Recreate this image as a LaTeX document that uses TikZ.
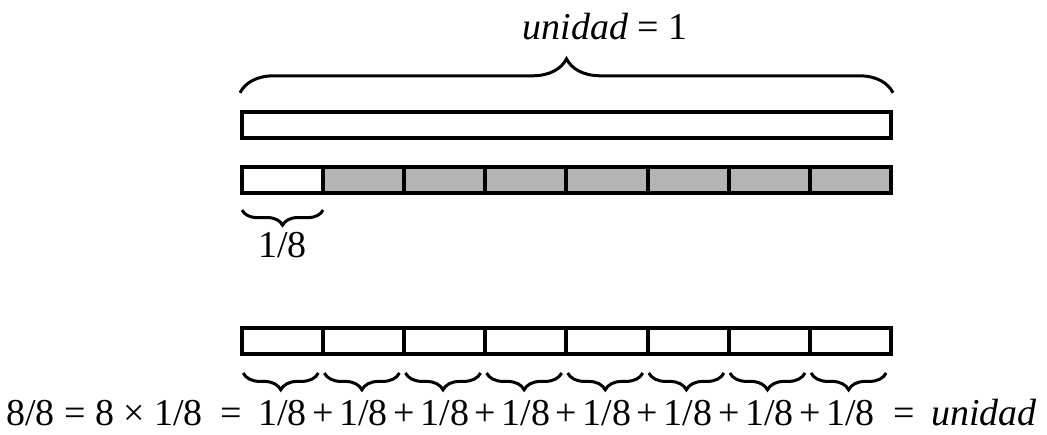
\documentclass[tikz,border=0pt]{standalone}
\usepackage{fontspec}
\setmainfont{Liberation Serif}
\usetikzlibrary{positioning,calc,decorations.pathreplacing}
\definecolor{trama}{RGB}{180,180,180}

\begin{document}
\begin{tikzpicture}[
    celda/.style={rectangle, draw=black, line width=0.1cm, fill=#1,
                  minimum width=2.028cm, minimum height=0.65cm, inner sep=0pt},
    celda/.default=white,
    llave/.style={decorate, decoration={brace, amplitude=#1}, line width=0.075cm},
    llave/.default=0.42cm,
    txt/.style={font=\fontsize{27}{32}\selectfont, inner sep=0pt}
]
\useasboundingbox (0,0) rectangle (26.175,10.85);

% la unidad entera
\node[celda, minimum width=16.225cm] (uno) at (14.1625,7.735) {};
\draw[llave=0.85cm] ([yshift=0.42cm]uno.north west) -- ([yshift=0.42cm]uno.north east);
\node[txt, anchor=base west] (total) at ([shift={(-1.1,1.74)}]uno.north) {\textit{unidad} = 1};

% octavos, solo el primero sin sombrear
\node[celda] (m1) at (7.064,6.355) {};
\foreach \i in {2,...,8}
  \node[celda=trama] (m\i) at ({6.05+(\i-0.5)*2.028},6.355) {};
\draw[llave=0.38cm] ([shift={(-0.05,-0.38)}]m1.south east) -- ([shift={(0.05,-0.38)}]m1.south west);
\node[txt, anchor=base] (octavo) at ([yshift=-1.58cm]m1.south) {1/8};

% ocho octavos hacen la unidad
\foreach \i in {1,...,8} {
  \node[celda] (b\i) at ({6.05+(\i-0.5)*2.028},2.32) {};
  \draw[llave] ([shift={(-0.17,-0.42)}]b\i.south east) -- ([shift={(0.08,-0.42)}]b\i.south west);
  \node[txt, anchor=base] (s\i) at ([yshift=-1.72cm]b\i.south) {1/8};
}
\foreach \i [evaluate=\i as \j using int(\i+1)] in {1,...,7}
  \node[txt, anchor=base] (p\i) at ($(s\i.base)!0.5!(s\j.base)$) {+};

\node[txt, anchor=base] (ig1) at ([xshift=-1.29cm]s1.base) {=};
\node[txt, anchor=base east] (prod) at ([xshift=-0.42cm]ig1.base west)
  {8/8 = 8 × 1/8};
\node[txt, anchor=base] (ig2) at ([xshift=1.34cm]s8.base) {=};
\node[txt, anchor=base west] (fin) at ([xshift=0.4cm]ig2.base east) {\textit{unidad}};
\end{tikzpicture}
\end{document}
